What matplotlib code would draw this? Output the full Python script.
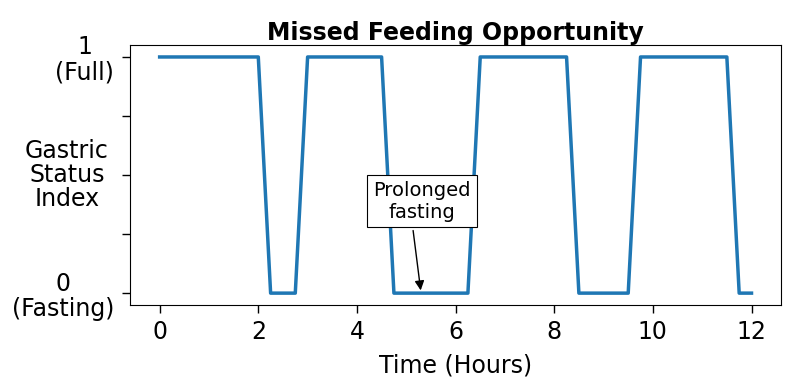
import matplotlib
matplotlib.use("Agg")
import matplotlib.pyplot as plt

time_h = [0, 2.0, 2.25, 2.75, 3.0, 4.5, 4.75, 6.25, 6.5, 8.25, 8.5, 9.5, 9.75, 11.5, 11.75, 12.0]
status = [1, 1, 0, 0, 1, 1, 0, 0, 1, 1, 0, 0, 1, 1, 0, 0]
y_ticks = [0, 0.25, 0.5, 0.75, 1]
y_ticklabels = ['0\n(Fasting)', '', '', '', '1\n(Full)']
x_ticks = [0, 2, 4, 6, 8, 10, 12]

fig = plt.figure(figsize=(7.93, 3.86), dpi=100)
ax = fig.add_axes([0.164, 0.210, 0.821, 0.673])
ax.plot(time_h, status, color='#1f77b4', lw=2.5)
ax.set_xticks(x_ticks)
ax.set_yticks(y_ticks)
ax.set_yticklabels(y_ticklabels, multialignment='center', linespacing=1.05)
ax.tick_params(labelsize=17, length=5.5, width=1.0)
ax.tick_params(axis='y', pad=6)
ax.tick_params(axis='x', pad=5)
ax.set_xlabel('Time (Hours)', fontsize=17, labelpad=7)
ax.set_ylabel('Gastric\nStatus\nIndex', fontsize=17, rotation=0, ha='center', va='center',
              linespacing=1.0)
ax.yaxis.set_label_coords(-0.097, 0.5)
ax.set_title('Missed Feeding Opportunity', fontsize=17, fontweight='bold', pad=4)
ax.annotate('Prolonged\nfasting', xy=(5.3, 0), xytext=(5.32, 0.39),
            ha='center', va='center', fontsize=14,
            bbox=dict(boxstyle='square,pad=0.3', fc='white', ec='black', lw=0.8),
            arrowprops=dict(arrowstyle='-|>', color='black', lw=1, relpos=(0.37, 0.5)))
fig.savefig('out.png', dpi=100)
